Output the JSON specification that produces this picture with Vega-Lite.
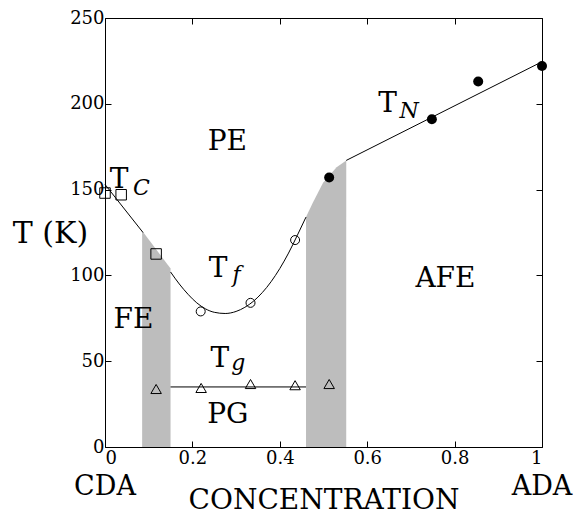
{
  "$schema": "https://vega.github.io/schema/vega-lite/v6.json",
  "width": 437,
  "height": 429,
  "autosize": {"type": "none"},
  "padding": {"left": 105, "top": 18, "right": 34, "bottom": 68},
  "background": "white",
  "config": {
    "view": {"stroke": "black", "strokeWidth": 1},
    "font": "DejaVu Serif",
    "axis": {
      "domain": false,
      "grid": false,
      "tickColor": "black",
      "tickSize": -6,
      "tickWidth": 1,
      "labelFont": "DejaVu Serif",
      "labelFontSize": 18,
      "labelColor": "black",
      "titleFont": "DejaVu Serif",
      "titleFontSize": 28,
      "titleColor": "black",
      "titleFontWeight": "normal"
    },
    "text": {"font": "DejaVu Serif", "color": "black"}
  },
  "datasets": {
    "points": [
      {"series": "TC", "x": 0.0, "T": 148},
      {"series": "TC", "x": 0.037, "T": 147},
      {"series": "TC", "x": 0.117, "T": 112.5},
      {"series": "Tf", "x": 0.219, "T": 79},
      {"series": "Tf", "x": 0.333, "T": 84},
      {"series": "Tf", "x": 0.435, "T": 120.6},
      {"series": "Tg", "x": 0.117, "T": 33.8},
      {"series": "Tg", "x": 0.22, "T": 34.4},
      {"series": "Tg", "x": 0.333, "T": 36.7},
      {"series": "Tg", "x": 0.435, "T": 36},
      {"series": "Tg", "x": 0.513, "T": 36.7},
      {"series": "TN", "x": 0.513, "T": 157},
      {"series": "TN", "x": 0.748, "T": 191},
      {"series": "TN", "x": 0.854, "T": 213},
      {"series": "TN", "x": 1.0, "T": 222}
    ],
    "lines": [
      {"series": "TC", "i": 0, "x": 0.0, "T": 153},
      {"series": "TC", "i": 1, "x": 0.087, "T": 125},
      {"series": "Tf", "i": 0, "x": 0.15, "T": 102},
      {"series": "Tf", "i": 1, "x": 0.17, "T": 95},
      {"series": "Tf", "i": 2, "x": 0.19, "T": 89},
      {"series": "Tf", "i": 3, "x": 0.21, "T": 84},
      {"series": "Tf", "i": 4, "x": 0.23, "T": 80.5},
      {"series": "Tf", "i": 5, "x": 0.25, "T": 78.5},
      {"series": "Tf", "i": 6, "x": 0.275, "T": 77.8},
      {"series": "Tf", "i": 7, "x": 0.3, "T": 79},
      {"series": "Tf", "i": 8, "x": 0.32, "T": 81.4},
      {"series": "Tf", "i": 9, "x": 0.34, "T": 85},
      {"series": "Tf", "i": 10, "x": 0.36, "T": 90},
      {"series": "Tf", "i": 11, "x": 0.38, "T": 96.3},
      {"series": "Tf", "i": 12, "x": 0.4, "T": 104},
      {"series": "Tf", "i": 13, "x": 0.42, "T": 113},
      {"series": "Tf", "i": 14, "x": 0.44, "T": 123.3},
      {"series": "Tf", "i": 15, "x": 0.46, "T": 134},
      {"series": "Tg", "i": 0, "x": 0.15, "T": 35},
      {"series": "Tg", "i": 1, "x": 0.46, "T": 35},
      {"series": "TN", "i": 0, "x": 0.552, "T": 167},
      {"series": "TN", "i": 1, "x": 1.0, "T": 224.5}
    ],
    "shade": [
      {"region": "CDA side", "x": 0.085, "T": 126},
      {"region": "CDA side", "x": 0.15, "T": 104},
      {"region": "ADA side", "x": 0.46, "T": 134},
      {"region": "ADA side", "x": 0.475, "T": 142},
      {"region": "ADA side", "x": 0.499, "T": 154},
      {"region": "ADA side", "x": 0.53, "T": 163},
      {"region": "ADA side", "x": 0.552, "T": 167}
    ],
    "labels": [
      {"text": "PE", "x": 0.28, "T": 173},
      {"text": "FE", "x": 0.065, "T": 69.3},
      {"text": "PG", "x": 0.281, "T": 14},
      {"text": "AFE", "x": 0.779, "T": 93},
      {"text": "T", "x": 0.032, "T": 151},
      {"text": "T", "x": 0.6465, "T": 195},
      {"text": "T", "x": 0.2586, "T": 99},
      {"text": "T", "x": 0.263, "T": 46.6}
    ],
    "subscripts": [
      {"text": "C", "x": 0.0835, "T": 147},
      {"text": "N", "x": 0.696, "T": 191.7},
      {"text": "f", "x": 0.301, "T": 96},
      {"text": "g", "x": 0.305, "T": 44.9}
    ],
    "ends": [
      {"text": "CDA", "x": 0.0, "T": -28},
      {"text": "ADA", "x": 1.0, "T": -28}
    ]
  },
  "resolve": {"axis": {"x": "independent", "y": "independent"}},
  "layer": [
    {
      "data": {"name": "shade"},
      "mark": {"type": "area", "fill": "#bdbdbd", "stroke": null},
      "encoding": {
        "x": {
          "field": "x", "type": "quantitative",
          "scale": {"domain": [0, 1], "nice": false},
          "axis": {
            "orient": "bottom",
            "values": [0, 0.2, 0.4, 0.6, 0.8, 1],
            "labelExpr": "'' + datum.value",
            "labelPadding": 8,
            "title": "CONCENTRATION",
            "titleFontSize": 28,
            "titleY": 61,
            "titleBaseline": "alphabetic"
          }
        },
        "y": {
          "field": "T", "type": "quantitative",
          "scale": {"domain": [0, 250], "nice": false},
          "axis": {
            "orient": "left",
            "values": [0, 50, 100, 150, 200, 250],
            "labelPadding": 7,
            "title": "T (K)",
            "titleFontSize": 30,
            "titleAngle": 0,
            "titleX": -55,
            "titleY": 224,
            "titleAlign": "center",
            "titleBaseline": "alphabetic"
          }
        },
        "y2": {"datum": 0},
        "detail": {"field": "region"}
      }
    },
    {
      "data": {"name": "lines"},
      "mark": {"type": "line", "stroke": "black", "strokeWidth": 1, "interpolate": "monotone"},
      "encoding": {
        "x": {
          "field": "x", "type": "quantitative",
          "axis": {"orient": "top", "values": [0, 0.2, 0.4, 0.6, 0.8, 1], "labels": false, "title": null}
        },
        "y": {
          "field": "T", "type": "quantitative",
          "axis": {"orient": "right", "values": [0, 50, 100, 150, 200, 250], "labels": false, "title": null}
        },
        "detail": {"field": "series"},
        "order": {"field": "i"}
      }
    },
    {
      "data": {"name": "points"},
      "transform": [{"filter": "datum.series === 'TC'"}],
      "mark": {"type": "point", "shape": "square", "filled": false, "stroke": "black", "strokeWidth": 1, "size": 110, "opacity": 1},
      "encoding": {
        "x": {"field": "x", "type": "quantitative", "axis": null},
        "y": {"field": "T", "type": "quantitative", "axis": null}
      }
    },
    {
      "data": {"name": "points"},
      "transform": [{"filter": "datum.series === 'Tf'"}],
      "mark": {"type": "point", "shape": "circle", "filled": false, "stroke": "black", "strokeWidth": 1, "size": 81, "opacity": 1},
      "encoding": {
        "x": {"field": "x", "type": "quantitative", "axis": null},
        "y": {"field": "T", "type": "quantitative", "axis": null}
      }
    },
    {
      "data": {"name": "points"},
      "transform": [{"filter": "datum.series === 'Tg'"}],
      "mark": {"type": "point", "shape": "triangle-up", "filled": false, "stroke": "black", "strokeWidth": 1, "size": 110, "opacity": 1},
      "encoding": {
        "x": {"field": "x", "type": "quantitative", "axis": null},
        "y": {"field": "T", "type": "quantitative", "axis": null}
      }
    },
    {
      "data": {"name": "points"},
      "transform": [{"filter": "datum.series === 'TN'"}],
      "mark": {"type": "point", "shape": "circle", "filled": true, "color": "black", "size": 100, "opacity": 1},
      "encoding": {
        "x": {"field": "x", "type": "quantitative", "axis": null},
        "y": {"field": "T", "type": "quantitative", "axis": null}
      }
    },
    {
      "data": {"name": "labels"},
      "mark": {"type": "text", "font": "DejaVu Serif", "fontSize": 28, "align": "center", "baseline": "alphabetic"},
      "encoding": {
        "x": {"field": "x", "type": "quantitative", "axis": null},
        "y": {"field": "T", "type": "quantitative", "axis": null},
        "text": {"field": "text"}
      }
    },
    {
      "data": {"name": "subscripts"},
      "mark": {"type": "text", "font": "DejaVu Serif", "fontSize": 22, "fontStyle": "italic", "align": "center", "baseline": "alphabetic"},
      "encoding": {
        "x": {"field": "x", "type": "quantitative", "axis": null},
        "y": {"field": "T", "type": "quantitative", "axis": null},
        "text": {"field": "text"}
      }
    },
    {
      "data": {"name": "ends"},
      "mark": {"type": "text", "font": "DejaVu Serif", "fontSize": 27, "align": "center", "baseline": "alphabetic"},
      "encoding": {
        "x": {"field": "x", "type": "quantitative", "axis": null},
        "y": {"field": "T", "type": "quantitative", "axis": null},
        "text": {"field": "text"}
      }
    }
  ]
}
